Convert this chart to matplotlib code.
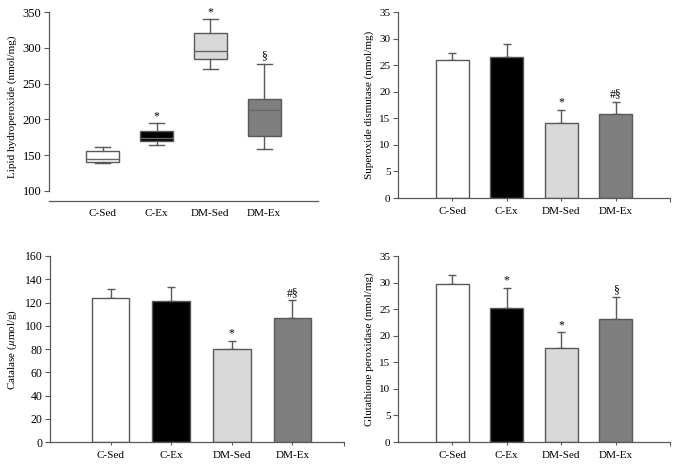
import matplotlib
matplotlib.use("Agg")
from matplotlib import pyplot as plt
import numpy as np

plt.rcParams['font.family'] = ['Liberation Serif', 'DejaVu Serif']
plt.rcParams['mathtext.fontset'] = 'stix'

groups = ["C-Sed", "C-Ex", "DM-Sed", "DM-Ex"]
colors = ["#ffffff", "#000000", "#d9d9d9", "#7f7f7f"]
edge = "#595959"

# lipid hydroperoxide box plot (nmol/mg)
lipid_low = [138.5, 164, 270, 158]
lipid_q1 = [141, 170, 284.5, 177]
lipid_med = [144, 174, 296, 213]
lipid_q3 = [156, 184, 321, 229]
lipid_high = [162, 195, 340, 278]
lipid_marks = ["", "*", "*", "§"]

# superoxide dismutase (nmol/mg)
sod_mean = [25.9, 26.6, 14.2, 15.9]
sod_err = [1.3, 2.3, 2.4, 2.2]
sod_marks = ["", "", "*", "#§"]

# catalase (umol/g)
cat_mean = [124, 121.5, 80, 107]
cat_err = [7.5, 11.5, 7, 15]
cat_marks = ["", "", "*", "#§"]

# glutathione peroxidase (nmol/mg)
gpx_mean = [29.8, 25.3, 17.6, 23.1]
gpx_err = [1.6, 3.7, 3.1, 4.1]
gpx_marks = ["", "*", "*", "§"]

W, H = 678, 465
fig = plt.figure(figsize=(W / 100, H / 100), dpi=100)


def px_axes(left, right, top, bottom):
    return fig.add_axes([left / W, 1 - bottom / H, (right - left) / W, (bottom - top) / H])


def style(ax, ysize=8):
    for s in ["top", "right"]:
        ax.spines[s].set_visible(False)
    for s in ["left", "bottom"]:
        ax.spines[s].set_color(edge)
        ax.spines[s].set_linewidth(0.9)
    ax.tick_params(axis="y", direction="out", length=3.5, width=0.8, color=edge,
                   labelsize=ysize, pad=2)
    ax.tick_params(axis="x", direction="out", length=2.5, width=0.8, color=edge,
                   labelsize=8, pad=4)


def bar_panel(ax, means, errs, marks, ylim, step, ylabel, xmax, width, ysize=8):
    x = np.arange(1, len(groups) + 1)
    ax.bar(x, means, width=width, color=colors, edgecolor=edge, linewidth=1.0, zorder=2)
    ax.errorbar(x, means, yerr=[np.zeros(len(errs)), errs], fmt="none",
                ecolor=edge, elinewidth=1.0, capsize=3, capthick=1.0, zorder=1)
    for xi, m, e, t in zip(x, means, errs, marks):
        if t:
            ax.text(xi, m + e + ylim * 0.006, t, ha="center", va="bottom", fontsize=8.5)
    ax.set_xlim(0, xmax)
    ax.set_ylim(0, ylim)
    ax.set_yticks(np.arange(0, ylim + 0.1, step))
    ax.set_xticks(x)
    ax.set_xticklabels(groups)
    ax.set_xticks([xmax], minor=True)
    ax.tick_params(axis="x", which="minor", length=3, width=0.8, color=edge)
    ax.set_ylabel(ylabel, fontsize=8, labelpad=4)
    style(ax, ysize)


# top left: box plot
ax1 = px_axes(49, 318, 11.7, 201)
stats = []
for lo, q1, med, q3, hi in zip(lipid_low, lipid_q1, lipid_med, lipid_q3, lipid_high):
    stats.append({"whislo": lo, "q1": q1, "med": med, "q3": q3, "whishi": hi, "fliers": []})
bp = ax1.bxp(stats, positions=[1, 2, 3, 4], widths=0.62, patch_artist=True,
             showfliers=False, capwidths=0.28,
             boxprops=dict(edgecolor=edge, linewidth=1.0),
             whiskerprops=dict(color=edge, linewidth=1.0),
             capprops=dict(color=edge, linewidth=1.0),
             medianprops=dict(color="#666666", linewidth=1.0))
for patch, c in zip(bp["boxes"], colors):
    patch.set_facecolor(c)
for xi, hi, t in zip([1, 2, 3, 4], lipid_high, lipid_marks):
    if t:
        ax1.text(xi, hi + 1.5, t, ha="center", va="bottom", fontsize=8.5)
ax1.set_xlim(0, 5)
ax1.set_ylim(86, 350.5)
ax1.set_yticks(np.arange(100, 351, 50))
ax1.spines["left"].set_bounds(100, 350)
ax1.set_xticks([1, 2, 3, 4])
ax1.set_xticklabels(groups)
ax1.set_ylabel("Lipid hydroperoxide (nmol/mg)", fontsize=8, labelpad=4)
style(ax1, 9)
ax1.tick_params(axis="x", length=0, pad=6)

# top right: SOD
ax2 = px_axes(398, 670, 12, 198)
bar_panel(ax2, sod_mean, sod_err, sod_marks, 35, 5,
          "Superoxide dismutase (nmol/mg)", 5, 0.61)

# bottom left: catalase
ax3 = px_axes(50, 344, 256, 442)
bar_panel(ax3, cat_mean, cat_err, cat_marks, 160, 20,
          "Catalase ($\\mu$mol/g)", 4.85, 0.62, 8.5)

# bottom right: GPx
ax4 = px_axes(398, 670, 256, 442)
bar_panel(ax4, gpx_mean, gpx_err, gpx_marks, 35, 5,
          "Glutathione peroxidase (nmol/mg)", 5, 0.61)

fig.savefig("out.png", dpi=100)
